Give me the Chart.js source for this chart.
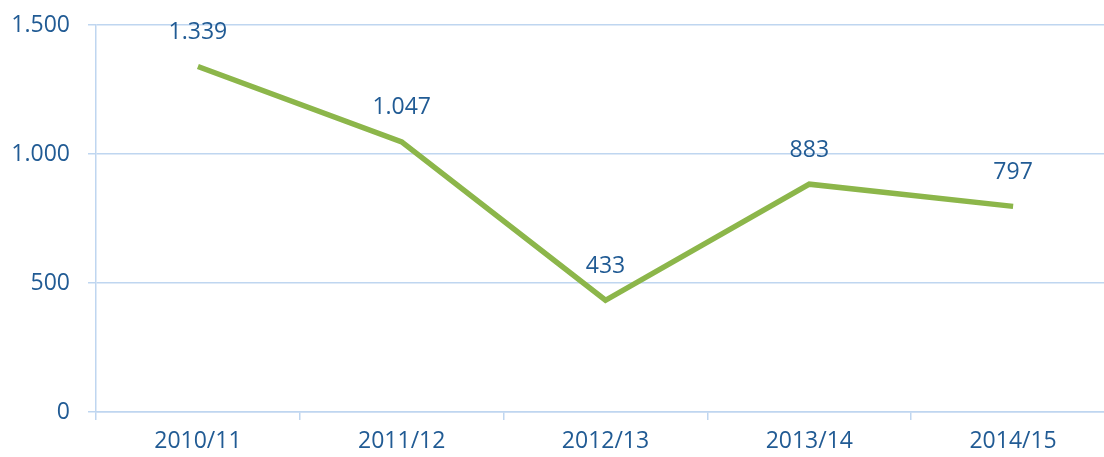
<!DOCTYPE html>
<html>
<head>
<meta charset="utf-8">
<script src="https://cdn.jsdelivr.net/npm/chart.js@4"></script>
<style>
  html, body { margin: 0; padding: 0; background: #ffffff; overflow: hidden; }
  #wrap { width: 1125px; height: 457px; }
</style>
</head>
<body>
<div id="wrap"><canvas id="lineChart" width="1125" height="457"></canvas></div>
<script>
const seasons = ["2010/11", "2011/12", "2012/13", "2013/14", "2014/15"];
const counts = [1339, 1047, 433, 883, 797];
const yTicks = [0, 500, 1000, 1500];

const textColor = "#215b94";
const gridColor = "#bfd6f0";
const lineColor = "#8cb64a";

// German style thousands separator (1.500)
function fmt(v) {
  return v.toString().replace(/\B(?=(\d{3})+(?!\d))/g, ".");
}

// draw value labels above each point
const valueLabels = {
  id: "valueLabels",
  afterDatasetsDraw(chart) {
    const ctx = chart.ctx;
    const meta = chart.getDatasetMeta(0);
    ctx.save();
    ctx.font = "23px 'Open Sans', sans-serif";
    ctx.fillStyle = textColor;
    ctx.textAlign = "center";
    ctx.textBaseline = "middle";
    meta.data.forEach((pt, i) => {
      ctx.fillText(fmt(counts[i]), pt.x, pt.y - 34);
    });
    ctx.restore();
  },
};

new Chart(document.getElementById("lineChart"), {
  type: "line",
  data: {
    labels: seasons,
    datasets: [
      {
        data: counts,
        borderColor: lineColor,
        borderWidth: 5.5,
        pointRadius: 0,
        tension: 0,
        fill: false,
      },
    ],
  },
  options: {
    responsive: false,
    animation: false,
    layout: { padding: { top: 25, right: 10, left: 0, bottom: 0 } },
    plugins: {
      legend: { display: false },
      tooltip: { enabled: false },
    },
    scales: {
      x: {
        offset: true,
        grid: {
          offset: true,
          drawOnChartArea: false,
          drawTicks: true,
          tickLength: 8,
          color: gridColor,
          lineWidth: 1.5,
        },
        border: { color: gridColor, width: 1.5 },
        ticks: {
          color: textColor,
          padding: 8,
          maxRotation: 0,
          font: { family: "'Open Sans', sans-serif", size: 23 },
        },
        afterFit(scale) {
          scale.height = 45;
          scale.paddingLeft = 0;
          scale.paddingRight = 0;
        },
      },
      y: {
        min: 0,
        max: 1500,
        afterBuildTicks(scale) {
          scale.ticks = yTicks.map((v) => ({ value: v }));
        },
        grid: {
          color: gridColor,
          lineWidth: 1.5,
          tickLength: 8,
        },
        border: { color: gridColor, width: 1.5 },
        ticks: {
          color: textColor,
          padding: 18,
          font: { family: "'Open Sans', sans-serif", size: 23 },
          callback: (v) => fmt(v),
        },
        afterFit(scale) {
          scale.width = 96;
          scale.paddingTop = 0;
          scale.paddingBottom = 0;
        },
      },
    },
  },
  plugins: [valueLabels],
});
</script>
</body>
</html>
